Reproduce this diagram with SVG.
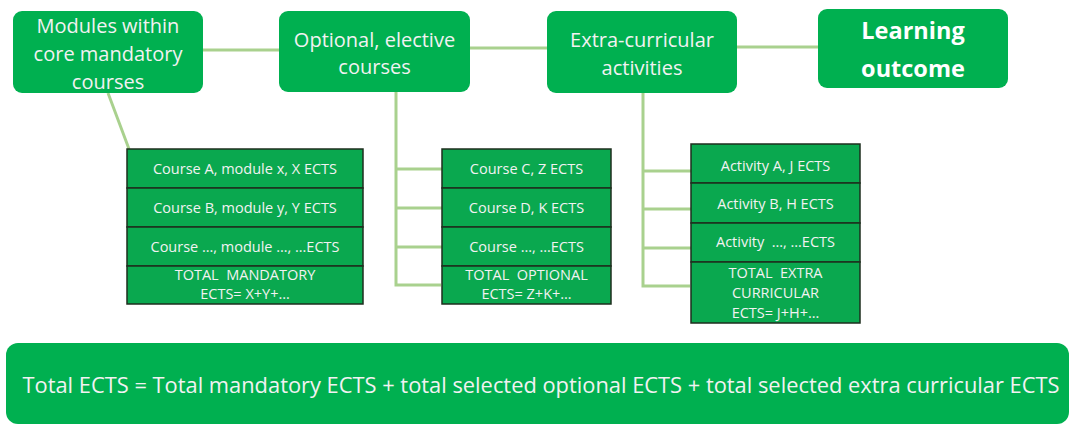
<svg xmlns="http://www.w3.org/2000/svg" width="1071" height="425" viewBox="0 0 1071 425">
<style>
.node{fill:#00B050;}
.t{font-family:"Open Sans","Noto Sans",sans-serif;fill:#F2F2F2;text-anchor:middle;white-space:pre;}
.nt{font-size:20px;}
.bt{font-size:23.5px;font-weight:bold;fill:#FFFFFF;}
.ct{font-size:14.5px;}
.cell{fill:#0AA84F;stroke:#1E2E1E;stroke-width:1.5;}
.conn{stroke:#A9D18E;stroke-width:3;fill:none;}
</style>
<rect width="1071" height="425" fill="#FFFFFF"/>
<g id="connectors">
<line class="conn" x1="203" y1="50" x2="280" y2="50"/>
<line class="conn" x1="470" y1="48" x2="548" y2="48"/>
<line class="conn" x1="737" y1="47" x2="819" y2="47"/>
<line class="conn" x1="108" y1="93" x2="129" y2="149"/>
<polyline class="conn" points="396,92 396,285 441,285"/>
<line class="conn" x1="396" y1="169" x2="442" y2="169"/>
<line class="conn" x1="396" y1="208" x2="442" y2="208"/>
<line class="conn" x1="396" y1="247" x2="442" y2="247"/>
<polyline class="conn" points="643,93 643,286 690,286"/>
<line class="conn" x1="643" y1="171" x2="691" y2="171"/>
<line class="conn" x1="643" y1="209" x2="691" y2="209"/>
<line class="conn" x1="643" y1="248" x2="691" y2="248"/>
</g>
<g id="node-mandatory">
<rect class="node" x="13" y="11" width="190" height="82" rx="9"/>
<text class="t nt" x="108" y="33">Modules within</text>
<text class="t nt" x="108" y="61">core mandatory</text>
<text class="t nt" x="108" y="89">courses</text>
</g>
<g id="node-optional">
<rect class="node" x="279" y="11" width="191" height="81" rx="9"/>
<text class="t nt" x="374.5" y="47">Optional, elective</text>
<text class="t nt" x="374.5" y="74">courses</text>
</g>
<g id="node-extra">
<rect class="node" x="547" y="11" width="190" height="82" rx="9"/>
<text class="t nt" x="642" y="47">Extra-curricular</text>
<text class="t nt" x="642" y="75">activities</text>
</g>
<g id="node-outcome">
<rect class="node" x="818" y="9" width="190" height="79" rx="9"/>
<text class="t bt" x="913" y="39">Learning</text>
<text class="t bt" x="913" y="77">outcome</text>
</g>
<g id="table-mandatory">
<rect class="cell" x="127" y="149" width="236" height="39"/>
<rect class="cell" x="127" y="188" width="236" height="39"/>
<rect class="cell" x="127" y="227" width="236" height="39"/>
<rect class="cell" x="127" y="266" width="236" height="38"/>
<text class="t ct" x="245" y="174">Course A, module x, X ECTS</text>
<text class="t ct" x="245" y="213">Course B, module y, Y ECTS</text>
<text class="t ct" x="245" y="252">Course …, module …, …ECTS</text>
<text class="t ct" x="245" y="280">TOTAL  MANDATORY</text>
<text class="t ct" x="245" y="299">ECTS= X+Y+…</text>
</g>
<g id="table-optional">
<rect class="cell" x="442" y="149" width="169" height="39"/>
<rect class="cell" x="442" y="188" width="169" height="39"/>
<rect class="cell" x="442" y="227" width="169" height="39"/>
<rect class="cell" x="442" y="266" width="169" height="38"/>
<text class="t ct" x="526.5" y="174">Course C, Z ECTS</text>
<text class="t ct" x="526.5" y="213">Course D, K ECTS</text>
<text class="t ct" x="526.5" y="252">Course …, …ECTS</text>
<text class="t ct" x="526.5" y="280">TOTAL  OPTIONAL</text>
<text class="t ct" x="526.5" y="299">ECTS= Z+K+…</text>
</g>
<g id="table-extra">
<rect class="cell" x="691" y="144" width="169" height="39"/>
<rect class="cell" x="691" y="183" width="169" height="40"/>
<rect class="cell" x="691" y="223" width="169" height="39"/>
<rect class="cell" x="691" y="262" width="169" height="61"/>
<text class="t ct" x="775.5" y="171">Activity A, J ECTS</text>
<text class="t ct" x="775.5" y="209">Activity B, H ECTS</text>
<text class="t ct" x="775.5" y="247">Activity  …, …ECTS</text>
<text class="t ct" x="775.5" y="278">TOTAL  EXTRA</text>
<text class="t ct" x="775.5" y="298">CURRICULAR</text>
<text class="t ct" x="775.5" y="318">ECTS= J+H+…</text>
</g>
<g id="node-total">
<rect class="node" x="6" y="343" width="1063" height="81" rx="12"/>
<text class="t" x="541" y="393" font-size="22" textLength="1037" lengthAdjust="spacingAndGlyphs">Total ECTS = Total mandatory ECTS + total selected optional ECTS + total selected extra curricular ECTS</text>
</g>
</svg>
